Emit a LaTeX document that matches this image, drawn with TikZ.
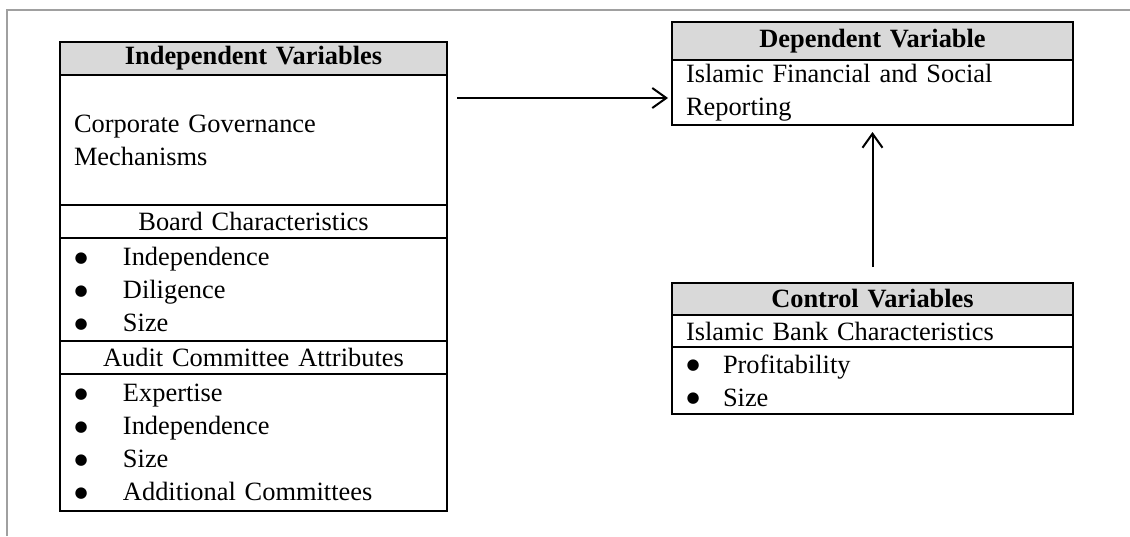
\documentclass[tikz,border=0pt]{standalone}
\usepackage{fontspec}
\setmainfont{Liberation Serif}
\newfontfamily\dotfont{DejaVu Sans}
\usetikzlibrary{arrows.meta, positioning}

\definecolor{hdrgray}{HTML}{D9D9D9}
\definecolor{framegray}{HTML}{A0A0A0}
\newcommand{\bodysize}{\fontsize{13.2}{16.5}\selectfont}
\newcommand{\bitem}[2][24.5pt]{\makebox[#1][l]{\hspace{0.3pt}\raisebox{1.6pt}{\dotfont\fontsize{7.5}{7.5}\selectfont ●}}#2}

\begin{document}
\begin{tikzpicture}[
  x=0.5pt, y=-0.5pt,
  cell/.style={draw, line width=1pt, outer sep=0pt, inner xsep=7pt, inner ysep=0pt,
    font=\bodysize, align=left},
  hdr/.style={cell, fill=hdrgray, font=\bodysize\bfseries, align=center},
  lwide/.style={text width=179.5pt},
  rwide/.style={text width=186.5pt},
  arr/.style={line width=1pt, -{Straight Barb[length=7pt, width=10pt]}}]

  \useasboundingbox (0,0) rectangle (1130,536);
  \draw[framegray, line width=1pt] (7,536) -- (7,10) -- (1130,10);

  % independent variables
  \node[hdr, lwide, minimum height=16.5pt, anchor=north] (indep) at (253.5,42) {Independent Variables};
  \node[cell, lwide, minimum height=65pt, below=0pt of indep] (corp) {Corporate Governance\\Mechanisms};
  \node[cell, lwide, minimum height=16.5pt, align=center, below=0pt of corp] (board) {Board Characteristics};
  \node[cell, lwide, minimum height=51.5pt, below=0pt of board] (boardlist)
    {\bitem{Independence}\\\bitem{Diligence}\\\bitem{Size}};
  \node[cell, lwide, minimum height=16.5pt, align=center, below=0pt of boardlist] (audit) {Audit Committee Attributes};
  \node[cell, lwide, minimum height=68.5pt, below=0pt of audit] (auditlist)
    {\bitem{Expertise}\\\bitem{Independence}\\\bitem{Size}\\\bitem{Additional Committees}};

  % dependent variable
  \node[hdr, rwide, minimum height=19pt, anchor=north] (dep) at (872.5,22) {Dependent Variable};
  \node[cell, rwide, minimum height=32.5pt, below=0pt of dep] (depbody) {Islamic Financial and Social\\Reporting};

  % control variables
  \node[hdr, rwide, minimum height=16pt, anchor=north] (ctrl) at (872.5,283) {Control Variables};
  \node[cell, rwide, minimum height=16pt, below=0pt of ctrl] (ctrlsub) {Islamic Bank Characteristics};
  \node[cell, rwide, minimum height=33.5pt, below=0pt of ctrlsub] (ctrllist)
    {\bitem[18.5pt]{Profitability}\\\bitem[18.5pt]{Size}};

  \coordinate (from) at (457,98);
  \draw[arr, shorten >=2pt] (from) -- (from -| depbody.west);
  \draw[arr, shorten <=8pt, shorten >=3.5pt] (ctrl.north) -- (depbody.south);
\end{tikzpicture}
\end{document}
